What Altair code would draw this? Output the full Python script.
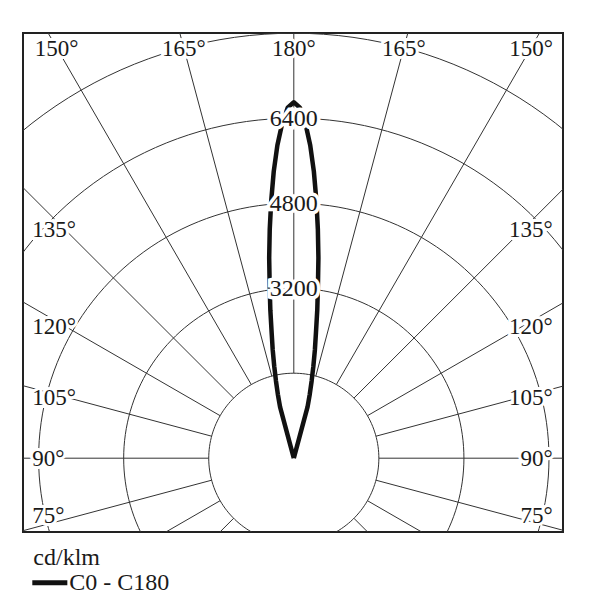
import altair as alt
import numpy as np
import pandas as pd

# ---------------- data ----------------
gamma_deg = [180, 179, 178, 177, 176, 175, 174, 173, 172, 171, 170, 169, 168, 167, 166, 165, 160]
intensity = [6700, 6600, 6300, 5900, 5410, 4870, 4330, 3800, 3260, 2820, 2400, 2080, 1770, 1490, 1240, 1000, 0]
series_name = "C0 - C180"
unit_label = "cd/klm"
ring_values = [1600, 3200, 4800, 6400, 8000]
ring_labels = [3200, 4800, 6400]
spoke_angles = list(range(0, 360, 15))
side_label_angles = [75, 90, 105, 120, 135]
top_label_angles = [150, 165, 180]

FONT = "'Liberation Serif', 'Times New Roman', serif"
INK = "#1a1a1a"
GRID = "#333333"

# scale geometry: 85 px per 1600 cd
k = 85.0 / 1600.0
cx, cy = 293.3, 458.5
fx0, fx1, fy0, fy1 = 22.7, 562.3, 33.3, 532.3
x_dom = [(fx0 - cx) / k, (fx1 - cx) / k]
y_dom = [-(fy1 - cy) / k, (cy - fy0) / k]
W, H = 540, 499

xs = alt.Scale(domain=x_dom, nice=False, zero=False)
ys = alt.Scale(domain=y_dom, nice=False, zero=False)


def X(f="x"):
    return alt.X(f + ":Q", scale=xs, axis=None)


def Y(f="y"):
    return alt.Y(f + ":Q", scale=ys, axis=None)


def px_x(p):
    return (p - cx) / k


def px_y(p):
    return (cy - p) / k


# ---------------- curve ----------------
rows = []
o = 0
for g, I in reversed(list(zip(gamma_deg, intensity))):
    t = np.radians(180 - g)
    rows.append({"x": -I * np.sin(t), "y": I * np.cos(t), "o": o, "series": series_name})
    o += 1
for g, I in list(zip(gamma_deg, intensity))[1:]:
    t = np.radians(180 - g)
    rows.append({"x": I * np.sin(t), "y": I * np.cos(t), "o": o, "series": series_name})
    o += 1
curve_df = pd.DataFrame(rows)

# ---------------- grid ----------------
circ = []
for r in ring_values:
    for a in range(0, 361, 2):
        t = np.radians(a)
        circ.append({"x": r * np.sin(t), "y": r * np.cos(t), "ring": r, "o": a})
circ_df = pd.DataFrame(circ)

sp = []
for g in spoke_angles:
    t = np.radians(g)
    sp.append({"x": ring_values[0] * np.sin(t), "y": -ring_values[0] * np.cos(t),
               "x2": 14000 * np.sin(t), "y2": -14000 * np.cos(t)})
spoke_df = pd.DataFrame(sp)

# ---------------- labels ----------------
left_x = px_x(32)
right_x = px_x(552)
side_dx = 229 / k
top_y = px_y(48)
bottom_lim = px_y(515)

left_rows, right_rows, top_rows = [], [], []
for g in side_label_angles:
    t = np.radians(g)
    yv = max(-np.cos(t) / np.sin(t) * side_dx, bottom_lim)
    left_rows.append({"x": left_x, "y": yv, "t": f"{g}°"})
    right_rows.append({"x": right_x, "y": yv, "t": f"{g}°"})
for g in top_label_angles:
    t = np.radians(180 - g)
    xv = np.tan(t) * top_y
    top_rows.append({"x": -xv, "y": top_y, "t": f"{g}°"})
    if g != 180:
        top_rows.append({"x": xv, "y": top_y, "t": f"{g}°"})
ring_rows = [{"x": 0.0, "y": float(r), "t": str(r)} for r in ring_labels]


def text_layers(rows, align, size=23, halo=6, baseline="middle", dy=1):
    df = pd.DataFrame(rows)
    base = alt.Chart(df)
    h = base.mark_text(align=align, baseline=baseline, font=FONT, fontSize=size,
                       fill="white", stroke="white", strokeWidth=halo, dy=dy, clip=False).encode(
        x=X(), y=Y(), text="t:N")
    t = base.mark_text(align=align, baseline=baseline, font=FONT, fontSize=size,
                       fill=INK, dy=dy, clip=False).encode(x=X(), y=Y(), text="t:N")
    return [h, t]


circles = alt.Chart(circ_df).mark_line(stroke=GRID, strokeWidth=1, clip=True).encode(
    x=X(), y=Y(), detail="ring:N", order="o:Q")
spokes = alt.Chart(spoke_df).mark_rule(stroke=GRID, strokeWidth=1, clip=True).encode(
    x=X(), y=Y(), x2="x2:Q", y2="y2:Q")

curve = alt.Chart(curve_df).mark_line(strokeWidth=4.5, clip=True, strokeJoin="round",
                                      color="#111111").encode(
    x=X(), y=Y(), order="o:Q")

# manual legend below the frame
legend_title_df = pd.DataFrame([{"x": px_x(33), "y": px_y(565), "t": unit_label}])
legend_label_df = pd.DataFrame([{"x": px_x(69), "y": px_y(590), "t": series_name}])
legend_line_df = pd.DataFrame([{"x": px_x(32), "x2": px_x(67), "y": px_y(583)}])

leg_title = alt.Chart(legend_title_df).mark_text(
    align="left", baseline="alphabetic", font=FONT, fontSize=24, fill=INK, clip=False).encode(
    x=X(), y=Y(), text="t:N")
leg_label = alt.Chart(legend_label_df).mark_text(
    align="left", baseline="alphabetic", font=FONT, fontSize=24, fill=INK, clip=False).encode(
    x=X(), y=Y(), text="t:N")
leg_line = alt.Chart(legend_line_df).mark_rule(stroke="#111111", strokeWidth=5, clip=False).encode(
    x=X(), x2="x2:Q", y=Y())

layers = [circles, spokes]
layers += text_layers(left_rows, "left")
layers += text_layers(right_rows, "right")
layers += text_layers(top_rows, "center")
layers += [curve]
layers += text_layers(ring_rows, "center", size=24, halo=7)
layers += [leg_title, leg_label, leg_line]

chart = alt.layer(*layers).properties(
    width=W, height=H,
    padding={"left": 15, "top": 25, "right": 10, "bottom": 10},
    background="white",
).configure_view(stroke="#222222", strokeWidth=2)

chart.save("out.html", embed_options={"renderer": "svg", "actions": False})
